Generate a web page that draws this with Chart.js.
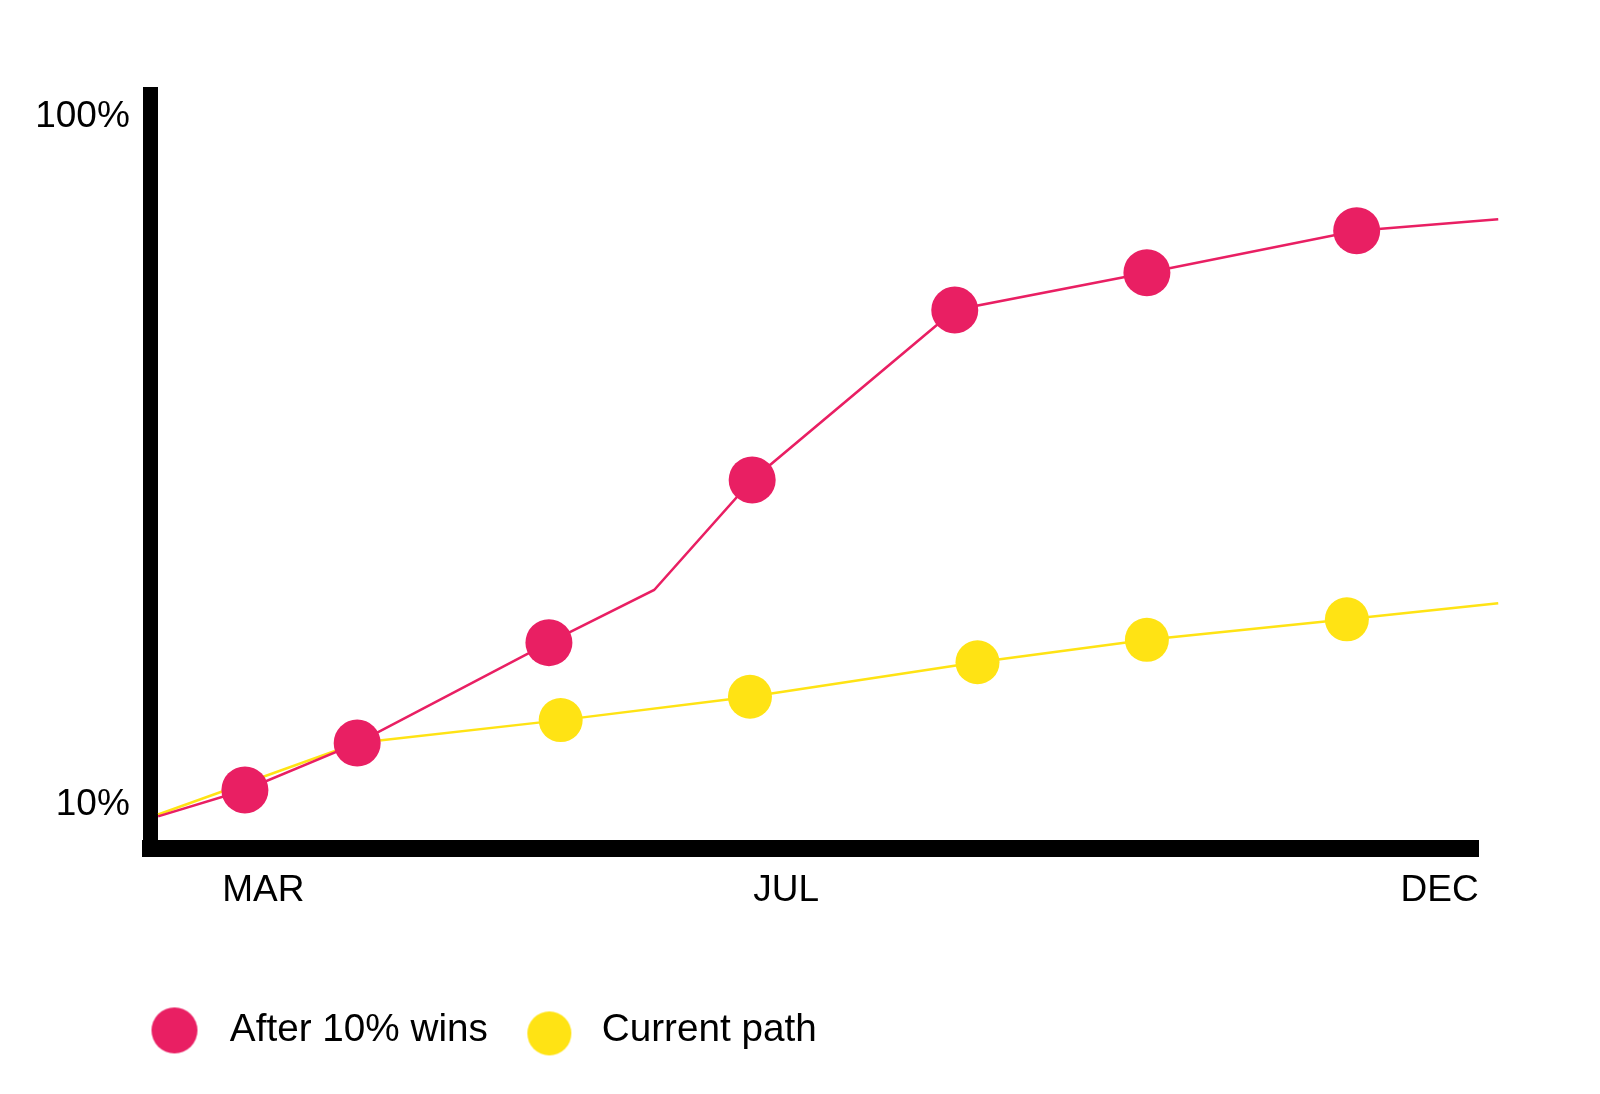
<!DOCTYPE html>
<html>
<head>
<meta charset="utf-8">
<title>After 10% wins vs current path</title>
<script src="https://cdn.jsdelivr.net/npm/chart.js@4.4.1/dist/chart.umd.min.js"></script>
<style>
  html, body { margin: 0; padding: 0; background: #fff; }
  #wrap { width: 1600px; height: 1094px; }
</style>
</head>
<body>
<div id="wrap"><canvas id="growthChart" width="1600" height="1094"></canvas></div>
<script>
// month number (Jan = 1), fractional where the point sits between months
const redMonths = [2.195, 2.859, 3.718, 5.185, 5.99, 6.74, 8.29, 9.76, 11.365, 12.448];
const redValues = [9.53, 10.41, 12.18, 17.04, 20.32, 29.36, 51.83, 58.72, 67.56, 70.18];

const yellowMonths = [2.195, 3.718, 5.275, 6.723, 8.464, 9.76, 11.29, 12.448];
const yellowValues = [9.59, 12.18, 13.15, 14.22, 15.96, 17.20, 18.42, 19.44];

const monthTicks = [3, 7, 12];
const monthLabels = ['MAR', 'JUL', 'DEC'];
const percentTicks = [10, 100];
const percentLabels = ['10%', '100%'];

const seriesNames = ['After 10% wins', 'Current path'];

const pink = '#e91f63';
const yellow = '#ffe314';
const fontFamily = '"Liberation Sans", Helvetica, Arial, sans-serif';

// points drawn without a marker (line start, kink, line end)
const redNoMarker = [0, 4, 9];
const yellowNoMarker = [0, 7];

function toPoints(xs, ys) {
    return xs.map((x, i) => ({ x: x, y: ys[i] }));
}

// legend dot as a small canvas, dx/dy nudge the dot inside it
function makeDot(color, r, dx, dy) {
    const c = document.createElement('canvas');
    c.width = 2 * (r + Math.abs(dx) + 2);
    c.height = 2 * (r + Math.abs(dy) + 2);
    const g = c.getContext('2d');
    g.fillStyle = color;
    g.beginPath();
    g.arc(c.width / 2 + dx, c.height / 2 + dy, r, 0, Math.PI * 2);
    g.fill();
    return c;
}

const legendDots = [makeDot(pink, 23, 0, 0), makeDot(yellow, 22, 3, 3)];

// legend sits further right than the layout padding allows
const legendShift = {
    id: 'legendShift',
    afterLayout(chart) {
        chart.legend.left = 116;
    }
};

const ctx = document.getElementById('growthChart').getContext('2d');
const growthChart = new Chart(ctx, {
    type: 'line',
    data: {
        datasets: [{
            label: seriesNames[0],
            data: toPoints(redMonths, redValues),
            borderColor: pink,
            backgroundColor: pink,
            borderWidth: 2.5,
            pointBackgroundColor: pink,
            pointBorderWidth: 0,
            pointRadius: (c) => redNoMarker.includes(c.dataIndex) ? 0 : 23.5,
            pointHoverRadius: (c) => redNoMarker.includes(c.dataIndex) ? 0 : 23.5,
            tension: 0,
            clip: false
        }, {
            label: seriesNames[1],
            data: toPoints(yellowMonths, yellowValues),
            borderColor: yellow,
            backgroundColor: yellow,
            borderWidth: 2.5,
            pointBackgroundColor: yellow,
            pointBorderWidth: 0,
            pointRadius: (c) => yellowNoMarker.includes(c.dataIndex) ? 0 : 22,
            pointHoverRadius: (c) => yellowNoMarker.includes(c.dataIndex) ? 0 : 22,
            tension: 0,
            clip: false
        }]
    },
    plugins: [legendShift],
    options: {
        responsive: false,
        devicePixelRatio: 1,
        animation: false,
        layout: {
            padding: { left: 20, right: 121.5, top: 94.5, bottom: 34.25 }
        },
        scales: {
            x: {
                type: 'linear',
                bounds: 'data',
                min: 2.139,
                max: 12.297,
                grid: { display: false, drawTicks: false },
                border: { display: true, width: 17, color: '#000' },
                afterBuildTicks: (scale) => {
                    scale.ticks = monthTicks.map(v => ({ value: v }));
                },
                afterFit: (scale) => {
                    scale.height = 140.05;
                    scale.paddingLeft = 0;
                    scale.paddingRight = 0;
                },
                ticks: {
                    color: '#000',
                    padding: 20,
                    maxRotation: 0,
                    font: { family: fontFamily, size: 37 },
                    callback: (value) => {
                        const i = monthTicks.indexOf(value);
                        return i >= 0 ? monthLabels[i] : '';
                    }
                }
            },
            y: {
                type: 'logarithmic',
                bounds: 'data',
                min: 8.56,
                max: 106.55,
                grid: { display: false, drawTicks: false },
                border: { display: true, width: 15, color: '#000' },
                afterBuildTicks: (scale) => {
                    scale.ticks = percentTicks.map(v => ({ value: v }));
                },
                afterFit: (scale) => {
                    scale.width = 130.8;
                    scale.paddingTop = 0;
                    scale.paddingBottom = 0;
                },
                ticks: {
                    color: '#000',
                    padding: 21,
                    labelOffset: 3,
                    font: { family: fontFamily, size: 37 },
                    callback: (value) => {
                        const i = percentTicks.indexOf(value);
                        return i >= 0 ? percentLabels[i] : '';
                    }
                }
            }
        },
        plugins: {
            tooltip: { enabled: false },
            legend: {
                position: 'bottom',
                align: 'start',
                labels: {
                    color: '#000',
                    usePointStyle: true,
                    pointStyleWidth: 72,
                    padding: 22.5,
                    font: { family: fontFamily, size: 38.7 },
                    generateLabels: (chart) => {
                        const items = Chart.defaults.plugins.legend.labels.generateLabels(chart);
                        items.forEach((item, i) => {
                            item.pointStyle = legendDots[i];
                        });
                        return items;
                    }
                }
            }
        }
    }
});
</script>
</body>
</html>
